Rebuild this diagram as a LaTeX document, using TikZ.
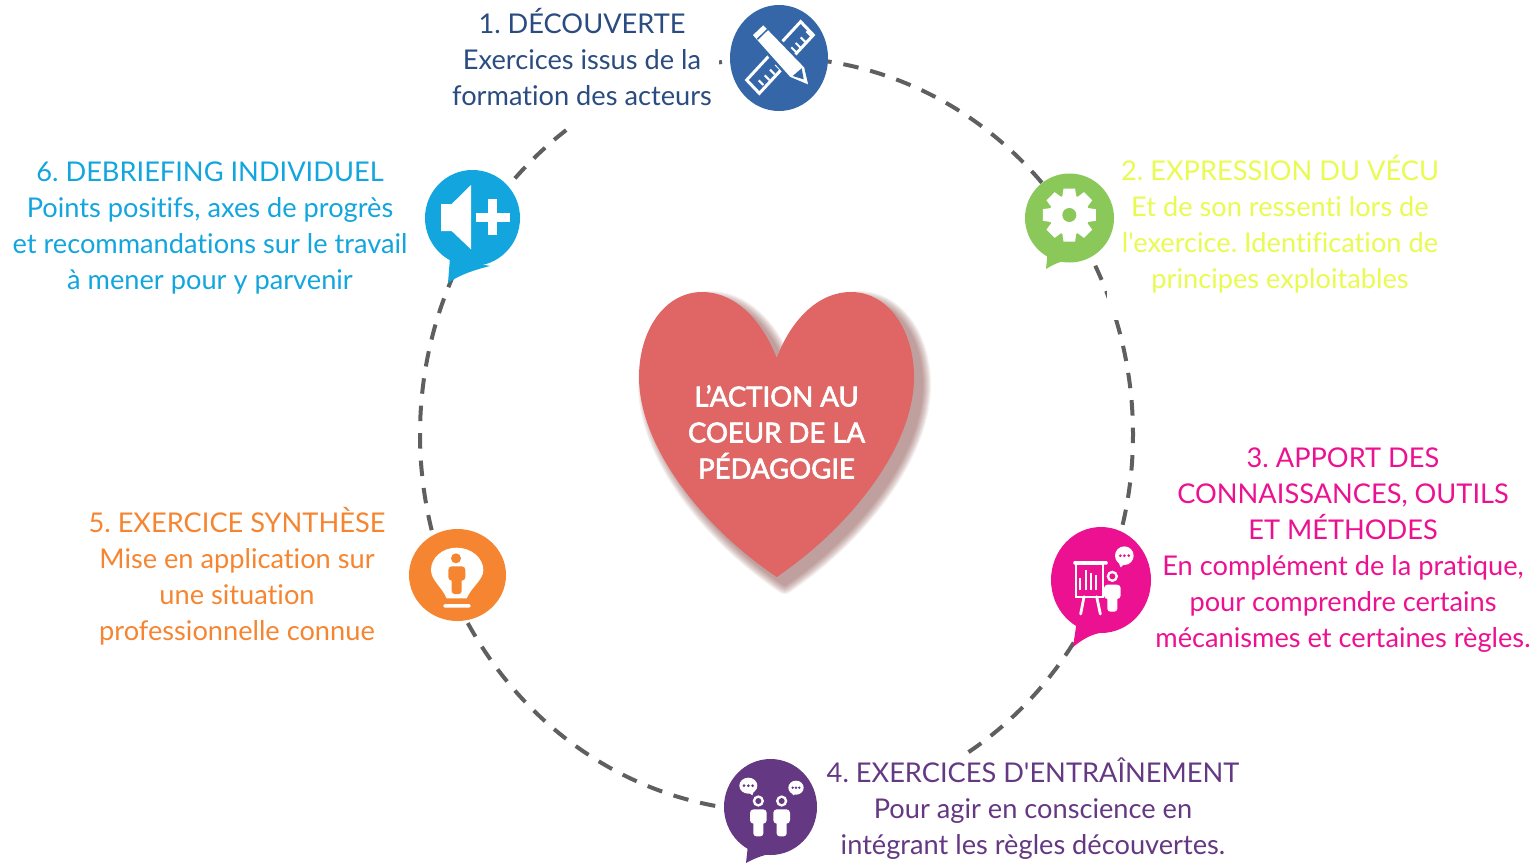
\documentclass[tikz,border=0pt]{standalone}
\usepackage{fontspec}
\setmainfont{Lato}[Ligatures={TeXOff,NoCommon}]
\newfontfamily\heavyfont[FakeBold=2.5,Ligatures={TeXOff,NoCommon}]{Lato}
\definecolor{cHeart}{HTML}{E06565}
\definecolor{cShadow}{HTML}{7A3A35}
\definecolor{cOne}{HTML}{3567A8}
\definecolor{cOneT}{HTML}{2A4C80}
\definecolor{cTwo}{HTML}{8BC85A}
\definecolor{cTwoT}{HTML}{E9FB50}
\definecolor{cThree}{HTML}{EC1190}
\definecolor{cFour}{HTML}{643882}
\definecolor{cFive}{HTML}{F58530}
\definecolor{cSix}{HTML}{12A5DE}
\definecolor{cRing}{HTML}{5F5F5F}
\newcommand{\heartshape}{(776.7,358) .. controls (762,320) and (735,292) .. (702,292) .. controls (665,292) and (639,330) .. (639,377) .. controls (639,445) and (700,525) .. (776.7,577) .. controls (853,525) and (914,445) .. (914,377) .. controls (914,330) and (888,292) .. (851,292) .. controls (818,292) and (791,320) .. (776.7,358) -- cycle}
\newcommand{\persona}[3]{% x, y (head centre, zoom units), colour
  \fill[white] (#1,#2) circle[radius=17];
  \fill[#3] (#1,#2) circle[radius=9];
  \fill[white,rounded corners=3.5pt] (#1-25,#2+25) rectangle (#1+25,#2+68);
  \fill[white,rounded corners=3pt] (#1-15,#2+50) rectangle (#1+15,#2+106);
}
\tikzset{
  ringline/.style={draw=cRing,line width=4pt,dash pattern=on 15.5pt off 12pt},
  lbl/.style={font=\frenchspacing\fontsize{27.2}{36}\selectfont,align=center,inner sep=0pt},
  mask/.style={fill=white,inner sep=0pt},
  tick/.style={white,line width=2pt},
}
\begin{document}
\begin{tikzpicture}[x=1pt,y=-1pt]
\useasboundingbox (0,0) rectangle (1538,863);
\coordinate (ring) at (776.5,434.5);
% ring
\foreach \nm/\a/\b in {ra/-83.6/-40,rb/-26.6/-20.9,rc/-17.8/15,rd/33.5/57.7,re/99.9/152,rf/165.3/205,rg/222.8/234.5,rh/260.2/261.2}{
  \path (ring) ++(\a:356.5 and 377) coordinate (\nm);
  \draw[ringline] (\nm) arc[start angle=\a,end angle=\b,x radius=356.5,y radius=377];
}
% heart
\foreach \w in {18,16,...,2}{
  \begin{scope}[shift={(8,8)},transparency group,opacity=0.07]
    \draw[cShadow,fill=cShadow,line width=\w pt,line join=round] \heartshape;
  \end{scope}
}
\fill[cHeart] \heartshape;
\node[font=\frenchspacing\fontsize{27.5}{36}\selectfont\heavyfont,text=white,align=center,inner sep=0pt] (heart) at (776.5,432) {L’ACTION AU\\COEUR DE LA\\PÉDAGOGIE};
% texts
\node[lbl,mask,text=cOneT,minimum width=273pt,minimum height=136pt] (t1) at (582,57) {1. DÉCOUVERTE\\Exercices issus de la\\formation des acteurs};
\node[lbl,mask,text=cTwoT,minimum width=346pt,minimum height=192pt] (t2) at (1280,224) {2. EXPRESSION DU VÉCU\\Et de son ressenti lors de\\l'exercice. Identification de\\principes exploitables};
\node[lbl,text=cThree] (t3) at (1343,550) {3. APPORT DES\\CONNAISSANCES, OUTILS\\ET MÉTHODES\\En complément de la pratique,\\pour comprendre certains\\mécanismes et certaines règles.};
\node[lbl,text=cFour] (t4) at (1033,809) {4. EXERCICES D'ENTRAÎNEMENT\\Pour agir en conscience en\\intégrant les règles découvertes.};
\node[lbl,text=cFive] (t5) at (237,576) {5. EXERCICE SYNTHÈSE\\Mise en application sur\\une situation\\professionnelle connue};
\node[lbl,text=cSix] (t6) at (210,228) {6. DEBRIEFING INDIVIDUEL\\Points positifs, axes de progrès\\et recommandations sur le travail\\à mener pour y parvenir};
% icon 1
\fill[cOne] (779,58) ellipse[x radius=49,y radius=53];
\begin{scope}[shift={(700,0)},scale=1/3]
  \draw[white,line width=3pt,fill=cOne,line join=miter] (140,240) -- (302,65) -- (340,105) -- (178,280) -- cycle;
  \foreach \p/\q in {325/100,308/118,293/135,280/148,232/200,216/215,200/232,182/247}{
    \draw[tick] (\p,\q) ++(8,8) -- ++(-14,-14);
  }
  \fill[white,draw=cOne,line width=2.5pt] (153,105) -- (190,70) -- (316,200) -- (330,260) -- (268,234) -- cycle;
  \draw[cOne,line width=1.5pt] (172,118) -- (203,88);
  \fill[cOne] (278,228) -- (305,205) -- (311,238) -- cycle;
\end{scope}
% icon 2
\fill[cTwo] (1069.5,218) circle[radius=44.5];
\fill[cTwo] (1048,248) -- (1046,269) .. controls (1060,260) and (1075,258) .. (1090,252) -- cycle;
\begin{scope}[shift={(1069.3,215)}]
  \foreach \r in {0,45,...,315}{
    \fill[white,rotate=\r] (-7.5,-15) -- (-5.8,-26.5) -- (5.8,-26.5) -- (7.5,-15) -- cycle;
  }
  \fill[white] (0,0) circle[radius=20];
  \fill[cTwo] (0,0) circle[radius=7];
\end{scope}
% icon 3
\fill[cThree] (1101,580) ellipse[x radius=50,y radius=53];
\fill[cThree] (1077,620) -- (1073,647) .. controls (1082,640) and (1090,634) .. (1105,632) -- cycle;
\begin{scope}[shift={(1040,515)},scale=1/3]
  \fill[white,rounded corners=1pt] (100,138) rectangle (203,149);
  \draw[white,line width=2.2pt] (108,148) rectangle (190,245);
  \foreach \x/\t in {120/190,137/165,152/175,167/180}{
    \draw[white,line width=2pt] (\x,\t) -- (\x,225);
  }
  \draw[white,line width=2.8pt,line cap=round] (132,245) -- (122,297);
  \draw[white,line width=2.8pt,line cap=round] (170,245) -- (181,297);
  \persona{217}{184}{cThree}
  \fill[white] (253,122) circle[radius=28];
  \fill[white] (236,143) -- (242,157) -- (252,148) -- cycle;
  \foreach \x in {241,253,266}{\fill[cThree] (\x,122) circle[radius=4.5];}
\end{scope}
% icon 4
\fill[cFour] (770.5,807) ellipse[x radius=46.5,y radius=48];
\fill[cFour] (748,845) -- (746,863) .. controls (755,858) and (765,854) .. (780,852) -- cycle;
\begin{scope}[shift={(710,750)},scale=1/3]
  \persona{145}{153}{cFour}
  \persona{215}{153}{cFour}
  \fill[white] (115,107) ellipse[x radius=27,y radius=24];
  \fill[white] (112,125) -- (127,136) -- (132,122) -- cycle;
  \foreach \x in {102,115,128}{\fill[cFour] (\x,107) circle[radius=4.5];}
  \fill[white] (258,113) ellipse[x radius=23,y radius=21];
  \fill[white] (245,128) -- (250,136) -- (258,130) -- cycle;
  \foreach \x in {248,258,268}{\fill[cFour] (\x,113) circle[radius=4];}
\end{scope}
% icon 5
\fill[cFive] (457.5,575) ellipse[x radius=48.5,y radius=46];
\begin{scope}[shift={(400,515)},scale=1/3]
  \fill[white] (170,98) .. controls (215,98) and (250,130) .. (250,165) .. controls (250,195) and (215,215) .. (200,250) -- (140,250) .. controls (125,215) and (93,195) .. (93,165) .. controls (93,130) and (125,98) .. (170,98) -- cycle;
  \fill[white,rounded corners=1.5pt] (130,267) rectangle (212,278);
  \fill[cFive] (168,130) circle[radius=15];
  \fill[cFive,rounded corners=3.5pt] (145,154) rectangle (196,197);
  \fill[cFive,rounded corners=3pt] (155,180) rectangle (185,237);
\end{scope}
% icon 6
\fill[cSix] (472.5,218) ellipse[x radius=47.5,y radius=48];
\fill[cSix] (450,258) -- (448,283) .. controls (458,276) and (470,271) .. (490,266) -- cycle;
\begin{scope}[shift={(415,160)},scale=1/3]
  \fill[white] (78,132) -- (110,132) -- (168,75) -- (168,268) -- (110,213) -- (78,213) -- cycle;
  \fill[white] (182,160) rectangle (285,187);
  \fill[white] (220,118) rectangle (247,226);
\end{scope}
\end{tikzpicture}
\end{document}
